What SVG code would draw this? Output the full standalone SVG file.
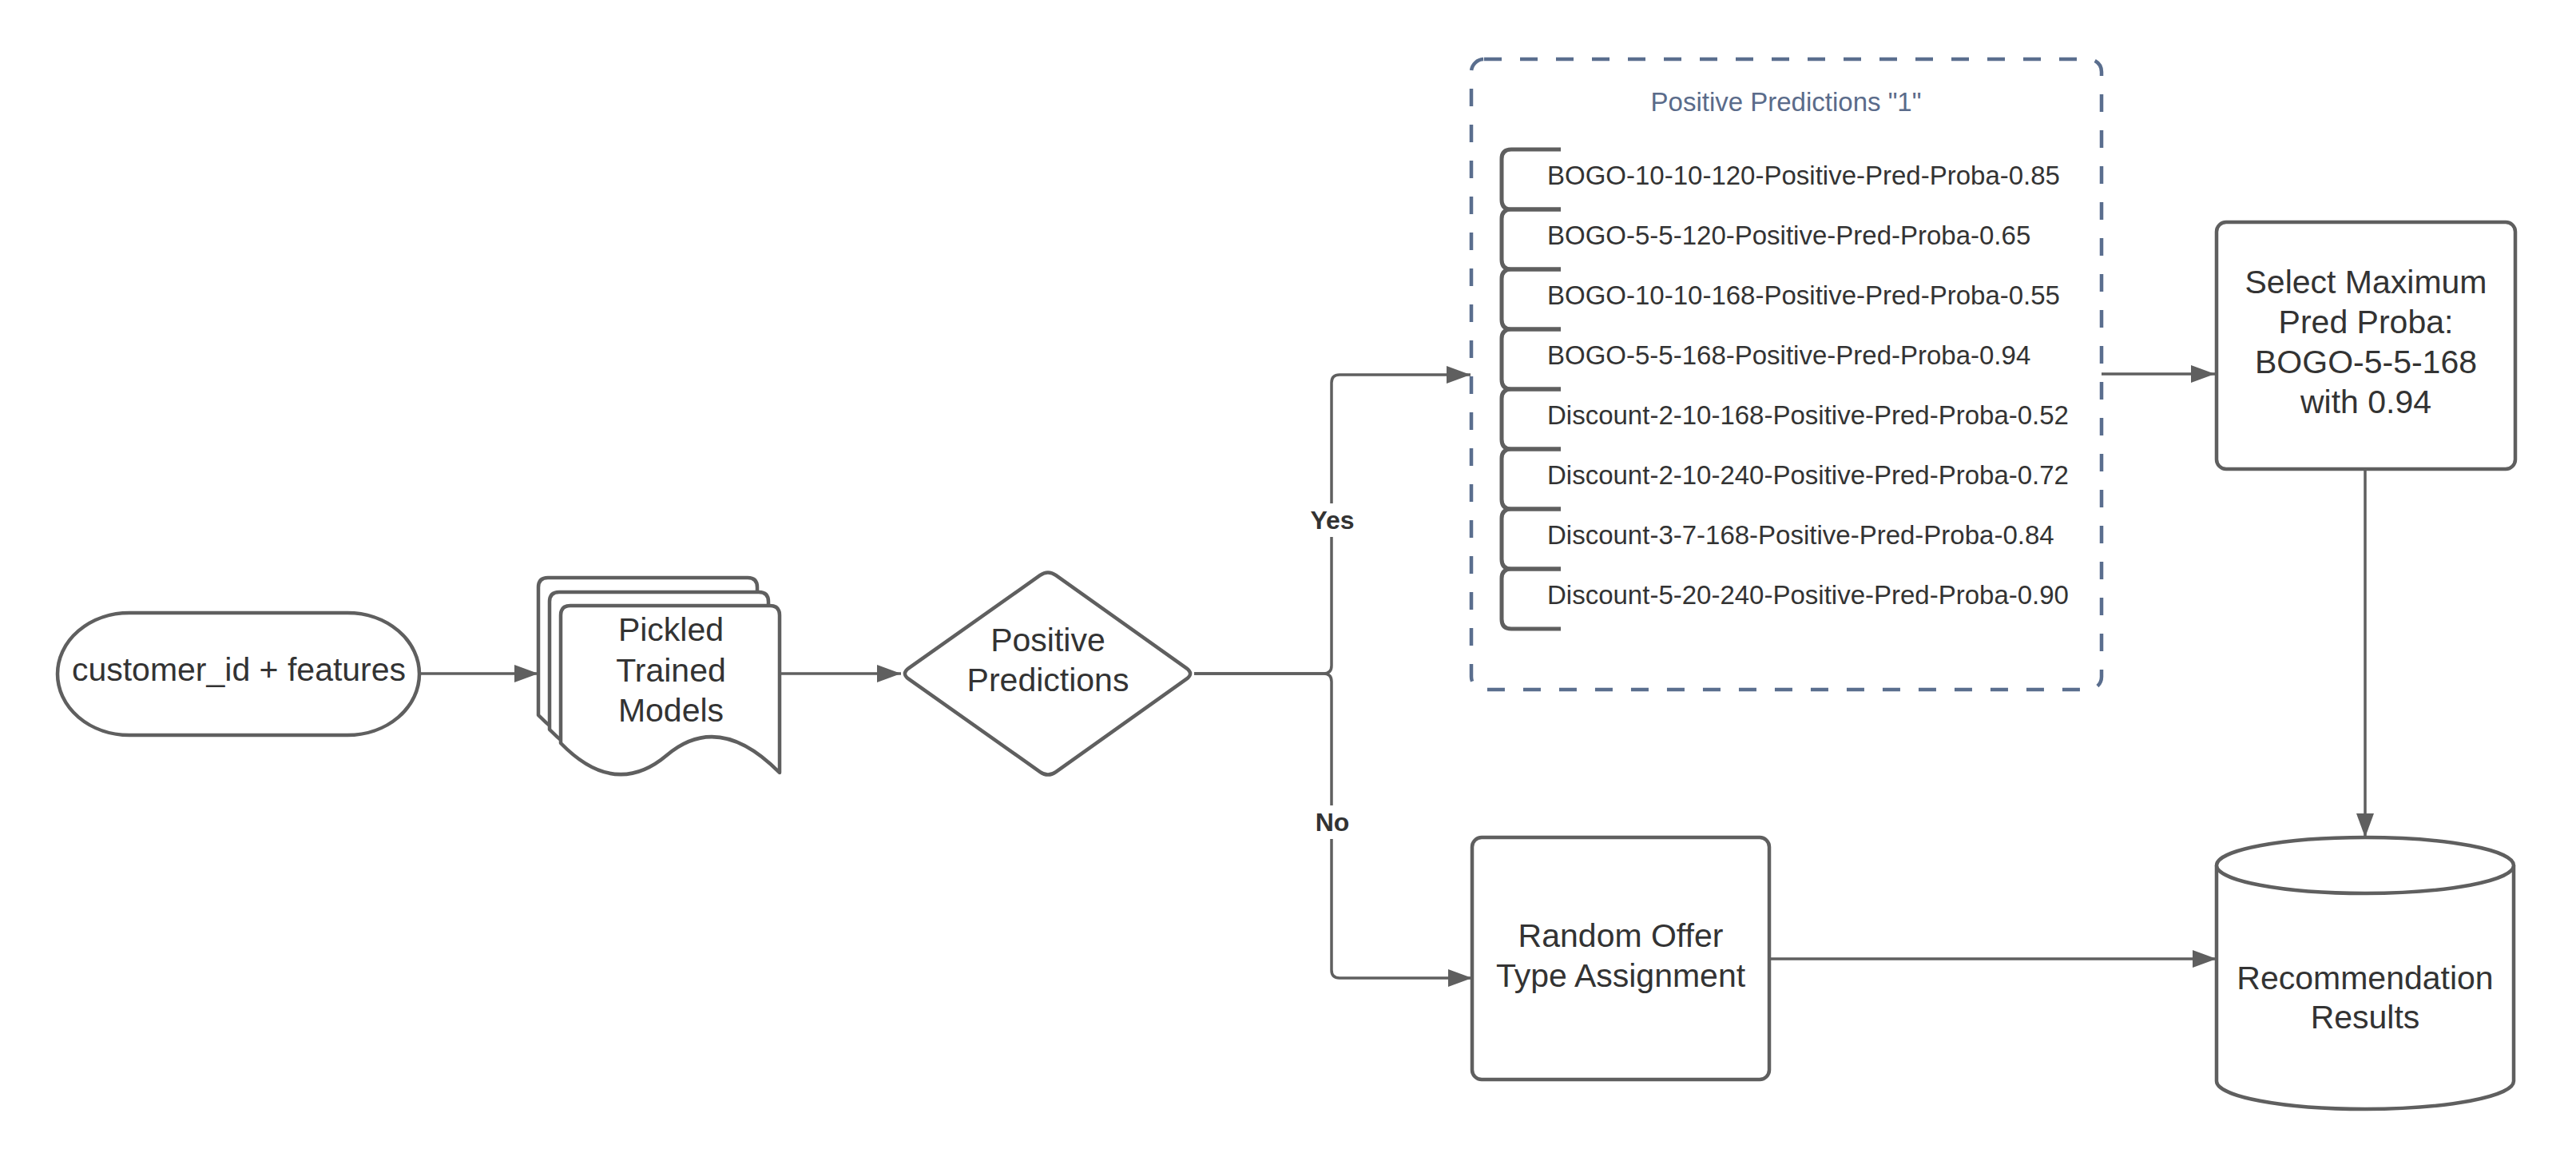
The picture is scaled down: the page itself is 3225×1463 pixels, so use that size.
<svg xmlns="http://www.w3.org/2000/svg" width="3225" height="1463" viewBox="0 0 3225 1463">
<style>
.shape{fill:#ffffff;stroke:#5f5f5f;stroke-width:4.5;stroke-linejoin:round}
.conn{fill:none;stroke:#5f5f5f;stroke-width:3.5}
.lbl{font-family:"Liberation Sans",Arial,sans-serif;font-size:41px;fill:#333333;text-anchor:middle}
.item{font-family:"Liberation Sans",Arial,sans-serif;font-size:33px;fill:#333333}
.edge{font-family:"Liberation Sans",Arial,sans-serif;font-size:32px;font-weight:bold;fill:#333333;text-anchor:middle}
.bracket{fill:none;stroke:#5f5f5f;stroke-width:5}
</style>
<defs>
<marker id="arr" markerUnits="userSpaceOnUse" markerWidth="30" markerHeight="22" refX="30" refY="11" orient="auto">
<path d="M0,0 L30,11 L0,22 Z" fill="#5f5f5f"/>
</marker>
<path id="doc" d="M702,770 Q702,758 714,758 H964 Q976,758 976,770 V967 Q900,890 835,945 T702,930 Z"/>
</defs>
<rect width="3225" height="1463" fill="#ffffff"/>

<g id="connectors">
<path class="conn" d="M525,843 H674" marker-end="url(#arr)"/>
<path class="conn" d="M976,843 H1128" marker-end="url(#arr)"/>
<path class="conn" d="M1495,843 H1657 Q1667,843 1667,833 V479 Q1667,469 1677,469 H1841" marker-end="url(#arr)"/>
<path class="conn" d="M1495,843 H1657 Q1667,843 1667,853 V1214 Q1667,1224 1677,1224 H1843" marker-end="url(#arr)"/>
<path class="conn" d="M2631,468 H2773" marker-end="url(#arr)"/>
<path class="conn" d="M2961,587 V1048" marker-end="url(#arr)"/>
<path class="conn" d="M2215,1200 H2775" marker-end="url(#arr)"/>
<rect x="1636" y="630" width="64" height="42" fill="#ffffff"/>
<text class="edge" x="1668" y="662">Yes</text>
<rect x="1642" y="1008" width="52" height="42" fill="#ffffff"/>
<text class="edge" x="1668" y="1040">No</text>
</g>

<g id="node-input">
<rect class="shape" x="72" y="767" width="453" height="153" rx="90" ry="76.5"/>
<text class="lbl" x="299" y="852">customer_id + features</text>
</g>

<g id="node-models">
<use href="#doc" class="shape" transform="translate(-28,-35)"/>
<use href="#doc" class="shape" transform="translate(-14,-17)"/>
<use href="#doc" class="shape"/>
<text class="lbl" x="840" y="802">Pickled</text>
<text class="lbl" x="840" y="853">Trained</text>
<text class="lbl" x="840" y="903">Models</text>
</g>

<g id="node-decision">
<path class="shape" d="M1137.8,836.1 L1302.2,719.9 Q1312,713 1321.8,719.9 L1485.2,836.1 Q1495,843 1485.2,849.9 L1321.8,966.1 Q1312,973 1302.2,966.1 L1137.8,849.9 Q1128,843 1137.8,836.1 Z"/>
<text class="lbl" x="1312" y="815">Positive</text>
<text class="lbl" x="1312" y="865">Predictions</text>
</g>

<g id="node-positive">
<rect x="1842" y="74" width="789" height="789" rx="16" fill="#ffffff" stroke="#5a6e8e" stroke-width="4.5" stroke-dasharray="22 23"/>
<text x="2236" y="139" font-family="'Liberation Sans',Arial,sans-serif" font-size="33" fill="#5a6b8a" text-anchor="middle">Positive Predictions "1"</text>
<path class="bracket" d="M1954,187 H1892 Q1880,187 1880,199 V250 Q1880,262 1892,262 H1954"/>
<path class="bracket" d="M1954,262 H1892 Q1880,262 1880,274 V325 Q1880,337 1892,337 H1954"/>
<path class="bracket" d="M1954,337 H1892 Q1880,337 1880,349 V400 Q1880,412 1892,412 H1954"/>
<path class="bracket" d="M1954,412 H1892 Q1880,412 1880,424 V475 Q1880,487 1892,487 H1954"/>
<path class="bracket" d="M1954,487 H1892 Q1880,487 1880,499 V550 Q1880,562 1892,562 H1954"/>
<path class="bracket" d="M1954,562 H1892 Q1880,562 1880,574 V625 Q1880,637 1892,637 H1954"/>
<path class="bracket" d="M1954,637 H1892 Q1880,637 1880,649 V700 Q1880,712 1892,712 H1954"/>
<path class="bracket" d="M1954,712 H1892 Q1880,712 1880,724 V775 Q1880,787 1892,787 H1954"/>
<text class="item" x="1937" y="231">BOGO-10-10-120-Positive-Pred-Proba-0.85</text>
<text class="item" x="1937" y="306">BOGO-5-5-120-Positive-Pred-Proba-0.65</text>
<text class="item" x="1937" y="381">BOGO-10-10-168-Positive-Pred-Proba-0.55</text>
<text class="item" x="1937" y="456">BOGO-5-5-168-Positive-Pred-Proba-0.94</text>
<text class="item" x="1937" y="531">Discount-2-10-168-Positive-Pred-Proba-0.52</text>
<text class="item" x="1937" y="606">Discount-2-10-240-Positive-Pred-Proba-0.72</text>
<text class="item" x="1937" y="681">Discount-3-7-168-Positive-Pred-Proba-0.84</text>
<text class="item" x="1937" y="756">Discount-5-20-240-Positive-Pred-Proba-0.90</text>
</g>

<g id="node-select">
<rect class="shape" x="2775" y="278" width="374" height="309" rx="12"/>
<text class="lbl" x="2962" y="367">Select Maximum</text>
<text class="lbl" x="2962" y="417">Pred Proba:</text>
<text class="lbl" x="2962" y="467">BOGO-5-5-168</text>
<text class="lbl" x="2962" y="517">with 0.94</text>
</g>

<g id="node-random">
<rect class="shape" x="1843" y="1048" width="372" height="303" rx="12"/>
<text class="lbl" x="2029" y="1185">Random Offer</text>
<text class="lbl" x="2029" y="1235">Type Assignment</text>
</g>

<g id="node-results">
<path class="shape" d="M2775,1083 V1353 A186,35 0 0 0 3147,1353 V1083 A186,35 0 0 0 2775,1083 Z"/>
<path class="shape" d="M2775,1083 A186,35 0 0 0 3147,1083" fill="none"/>
<text class="lbl" x="2961" y="1238">Recommendation</text>
<text class="lbl" x="2961" y="1287">Results</text>
</g>
</svg>
